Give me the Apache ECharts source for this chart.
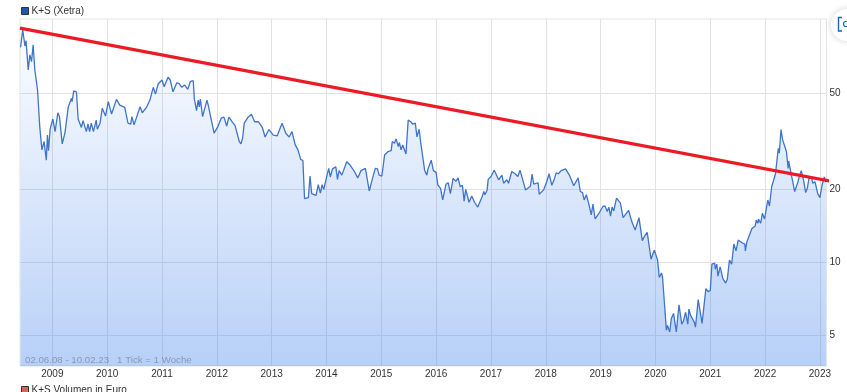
<!DOCTYPE html>
<html>
<head>
<meta charset="utf-8">
<style>html,body{margin:0;padding:0;background:#fff;overflow:hidden}#c{width:847px;height:392px}</style>
<script src="https://cdn.jsdelivr.net/npm/echarts@6/dist/echarts.min.js"></script>
</head>
<body>
<div id="c"></div>
<script>
const seriesName = 'K+S (Xetra)';
const volumeName = 'K+S Volumen in Euro';
const footnote = '02.06.08 - 10.02.23   1 Tick = 1 Woche';
const yearTicks = [2009,2010,2011,2012,2013,2014,2015,2016,2017,2018,2019,2020,2021,2022,2023];
const priceTicks = [5,10,20,50];
const timeRange = [2008.41,2023.12];
const priceRange = [3.74,100.8];
const trendTimes = [2008.41,2023.24];
const trendValues = [92.4,21.5];
const times = [
2008.42,2008.46,2008.50,2008.52,2008.56,2008.59,2008.62,2008.65,2008.68,2008.70,2008.73,2008.77,2008.81,2008.85,2008.89,2008.91,2008.93,2008.96,2008.98,
2009.01,2009.05,2009.10,2009.13,2009.18,2009.23,2009.29,2009.32,2009.35,2009.36,2009.39,2009.44,2009.47,2009.53,2009.56,2009.62,2009.65,2009.68,2009.71,2009.75,2009.80,2009.82,2009.87,2009.91,2009.97,
2010.02,2010.08,2010.17,2010.23,2010.32,2010.38,2010.43,2010.45,2010.49,2010.60,2010.64,2010.72,2010.78,2010.84,2010.88,2010.93,
2011.00,2011.04,2011.11,2011.15,2011.20,2011.27,2011.31,2011.36,2011.41,2011.47,2011.52,2011.57,2011.59,2011.63,2011.66,2011.68,2011.70,2011.74,2011.77,2011.82,2011.85,2011.90,2011.92,2011.95,
2012.02,2012.08,2012.13,2012.18,2012.22,2012.29,2012.33,2012.41,2012.44,2012.47,2012.50,2012.57,2012.63,2012.69,2012.76,2012.83,2012.88,2012.95,
2013.03,2013.10,2013.19,2013.26,2013.32,2013.37,2013.43,2013.48,2013.53,2013.57,2013.60,2013.67,2013.70,2013.73,2013.81,2013.85,2013.89,2013.92,2013.95,
2014.04,2014.07,2014.11,2014.17,2014.20,2014.23,2014.28,2014.37,2014.43,2014.51,2014.57,2014.63,2014.71,2014.78,2014.84,2014.87,2014.89,2014.93,2014.96,
2015.01,2015.06,2015.12,2015.18,2015.20,2015.24,2015.27,2015.31,2015.33,2015.36,2015.39,2015.45,2015.49,2015.54,2015.57,2015.62,2015.65,2015.69,2015.72,2015.74,2015.79,2015.83,2015.85,2015.88,2015.91,2015.95,
2016.00,2016.03,2016.08,2016.12,2016.18,2016.22,2016.26,2016.31,2016.36,2016.40,2016.44,2016.48,2016.51,2016.54,2016.60,2016.65,2016.70,2016.76,2016.84,2016.87,2016.89,2016.93,2016.95,
2017.00,2017.06,2017.14,2017.20,2017.23,2017.29,2017.32,2017.38,2017.44,2017.49,2017.53,2017.58,2017.63,2017.72,2017.75,2017.78,2017.86,2017.88,2017.96,
2018.02,2018.06,2018.11,2018.16,2018.19,2018.23,2018.28,2018.36,2018.43,2018.46,2018.51,2018.59,2018.63,2018.67,2018.70,2018.74,2018.78,2018.83,2018.86,2018.90,2018.96,
2019.04,2019.08,2019.12,2019.15,2019.18,2019.21,2019.24,2019.29,2019.36,2019.41,2019.51,2019.57,2019.63,2019.70,2019.76,2019.80,2019.85,2019.92,2019.98,
2020.04,2020.07,2020.11,2020.13,2020.20,2020.22,2020.26,2020.29,2020.32,2020.33,2020.38,2020.43,2020.48,2020.51,2020.55,2020.59,2020.61,2020.64,2020.71,2020.73,2020.78,2020.85,2020.92,2020.96,
2021.00,2021.03,2021.08,2021.09,2021.12,2021.14,2021.18,2021.23,2021.28,2021.31,2021.35,2021.39,2021.43,2021.47,2021.51,2021.58,2021.63,2021.64,2021.67,2021.70,2021.76,2021.82,2021.84,2021.87,2021.88,2021.92,2021.95,2021.99,
2022.05,2022.08,2022.12,2022.19,2022.24,2022.26,2022.29,2022.32,2022.35,2022.39,2022.42,2022.43,2022.48,2022.54,2022.60,2022.63,2022.66,2022.70,2022.74,2022.77,2022.80,2022.85,2022.87,2022.91,2022.96,
2023.00,2023.04,2023.08,2023.11
];
const prices = [
77,90.9,78,82,62.1,71.7,67.2,78.8,62.1,63.1,51.4,36.3,29.1,31.5,26.4,33.5,28.9,35.5,35.1,
39,34.6,41.4,39.9,30.8,34.2,43.7,43.2,47.5,46,50.9,50.5,39,36,38.4,34.6,37.2,34.6,37.5,34.6,38.6,35.4,37.5,43.2,40.1,
46,40.9,47,44.5,43.6,37.5,37.2,39.9,36.9,43.8,41.4,43.7,46.7,52.7,49.4,54.4,
56.5,53,58,56.5,50.5,55,54.7,52.7,53.9,51.7,55.8,56.1,47.1,42.2,46.7,43.8,47.1,39.9,40.1,46.7,43.8,38.6,38.9,34.1,
36.3,39.3,39.7,36.5,39.7,37.7,36.8,31.5,30.8,32.5,37.5,39.7,40.8,38,38,36,32.9,35.3,
33.5,33.2,37.5,34,32.9,34.6,30.5,29.1,26.6,26.3,18.3,18.5,22.7,19.2,18.9,20.9,19.3,20.9,20,
24.4,22.5,24.3,24.8,22,23.9,22.9,26,25.2,23.7,22.3,23.9,24.4,19.7,22.2,22.3,24.4,24.3,22.9,
22.7,27.7,28.6,28.9,31.5,31,32.3,30,31.2,29.1,30.5,28,38.6,38,37.2,37.5,32.9,35.4,31,31.2,24,22.9,24.2,23.8,26.4,23.9,
23.5,20.9,20.2,18.1,21,21.3,19.2,22.2,21.6,22.3,20.5,20.8,17.9,20,17.7,18.8,17.7,16.9,18.7,19.6,19,19.9,22,
22.6,24,21.9,22.9,21.2,21.9,21.2,23.7,23.2,22.6,24,21.9,19.9,20.6,23.1,21,21.3,19.1,19.9,
21.6,23.2,20.8,22.2,23.4,23.2,23.9,24.3,22.9,23.1,20.7,22.3,19.6,19.4,18.1,19,17.6,15.7,17.4,15.1,15.8,
17,17.1,16.2,16.9,15.5,16.9,16.3,18.4,17.6,15.3,16.4,14.7,13.6,15.3,12.3,12.8,13.3,10.3,11.24,
10.2,8.67,9.05,8.67,5.25,5.5,5.17,5.87,5.8,6.16,5.17,6.69,5.56,5.73,6.23,5.56,6.42,6.06,5.66,5.41,7.03,5.6,7.8,7.58,
7.66,9.84,9.93,9.37,9.84,8.78,9.58,8.57,8.22,8.5,10.22,9.84,11.9,11.16,12.36,12.05,11.9,11.16,12.2,12.36,13.8,14.12,14.95,14.5,15.1,14.5,15.93,15.1,
18.08,17.08,20.5,23.2,29.5,28.2,35.3,32,31.5,28.6,24.4,26.2,22.9,19.6,21.5,22.9,23.9,21.9,19.4,20.2,22.2,22.2,21.2,21.5,19.2,
18.5,20.9,22.5,21.4
];
const font = '"Liberation Sans", Arial, sans-serif';
const chart = echarts.init(document.getElementById('c'), null, {renderer:'canvas'});
chart.setOption({
  animation:false,
  backgroundColor:'#fff',
  textStyle:{fontFamily:font},
  grid:{left:20,right:20.5,top:19,height:347,show:true,borderColor:'#e4e4e4',borderWidth:1,backgroundColor:'transparent'},
  legend:[
    {data:[{name:seriesName,icon:'rect',itemStyle:{color:'#1a5aa8',borderColor:'#333',borderWidth:1}}],left:21,top:6,itemWidth:7,itemHeight:7,itemGap:3,padding:0,selectedMode:false,textStyle:{fontSize:10,color:'#333',fontFamily:font,padding:[0,0,0,-2]}},
    {data:[{name:volumeName,icon:'rect',itemStyle:{color:'#d9605c',borderColor:'#333',borderWidth:1}}],left:21,top:385,itemWidth:7,itemHeight:7,itemGap:3,padding:0,selectedMode:false,textStyle:{fontSize:10,color:'#333',fontFamily:font,padding:[0,0,0,-2]}}
  ],
  xAxis:{type:'value',min:timeRange[0],max:timeRange[1],
    axisLine:{show:false},
    axisTick:{show:false,customValues:yearTicks},
    axisLabel:{customValues:yearTicks,formatter:v=>String(Math.round(v)),fontSize:10,color:'#333',margin:3,fontFamily:font,hideOverlap:false},
    splitLine:{show:true,lineStyle:{color:'#e2e2e2',width:1}}},
  yAxis:{type:'log',logBase:10,min:priceRange[0],max:priceRange[1],position:'right',
    axisLine:{show:false},
    axisTick:{show:false,customValues:priceTicks},
    axisLabel:{customValues:priceTicks,formatter:v=>String(Math.round(v)),fontSize:10,color:'#333',margin:3,fontFamily:font},
    splitLine:{show:true,lineStyle:{color:'#e2e2e2',width:1}}},
  series:[
    {name:seriesName,type:'line',data:times.map((t,i)=>[t,prices[i]]),showSymbol:false,symbol:'none',
      lineStyle:{color:'#3f74ca',width:1.3},
      itemStyle:{color:'#1a5aa8'},
      areaStyle:{origin:'start',opacity:1,color:{type:'linear',x:0,y:0,x2:0,y2:1,colorStops:[{offset:0,color:'rgba(55,124,235,0.01)'},{offset:1,color:'rgba(55,124,235,0.36)'}]}},
      z:2},
    {name:'Trend',type:'line',data:trendTimes.map((t,i)=>[t,trendValues[i]]),showSymbol:false,symbol:'none',clip:false,
      lineStyle:{color:'#ec1a24',width:3.2},z:3},
    {name:volumeName,type:'line',data:[],itemStyle:{color:'#d9605c'}}
  ],
  graphic:[
    {type:'text',left:25,top:355.5,z:5,style:{text:footnote,fill:'rgba(105,115,130,0.6)',fontSize:9.7,fontFamily:font}},
    {type:'circle',shape:{cx:847,cy:25,r:16},z:6,style:{fill:'#fff',shadowBlur:6,shadowColor:'rgba(0,0,0,0.18)'}},
    {type:'polyline',shape:{points:[[842,17.5],[838.5,17.5],[838.5,31],[842,31]]},z:7,style:{stroke:'#1565c0',lineWidth:1.4,fill:null}},
    {type:'circle',shape:{cx:846,cy:24,r:2.5},z:7,style:{stroke:'#1565c0',lineWidth:1.2,fill:null}}
  ]
});
</script>
</body>
</html>
